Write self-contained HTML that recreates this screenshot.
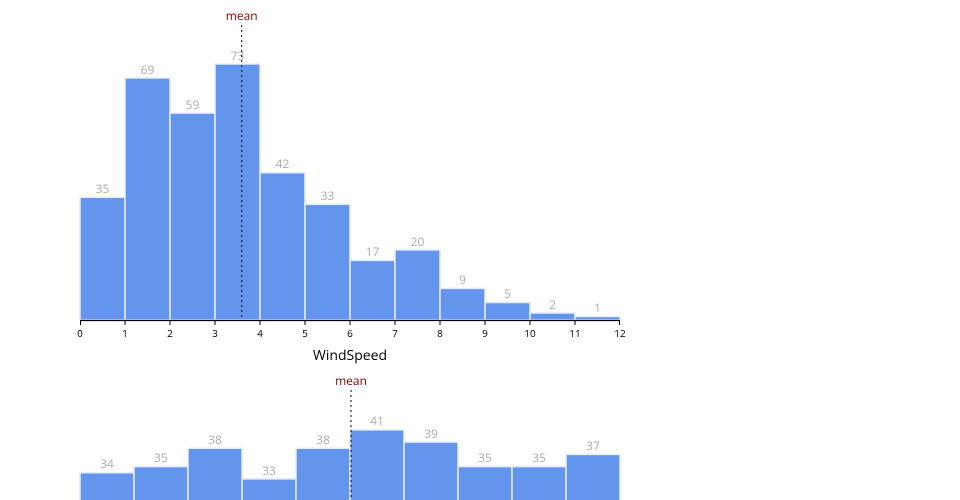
<!DOCTYPE html><html><head><style>body{margin:0;background:#fff}svg{display:block;font-family:"Open Sans","Liberation Sans",sans-serif}</style></head><body>
<svg width="960" height="500" viewBox="0 0 960 500">
<g fill="#6495ed" stroke="#e6ecfa" stroke-width="1.5">
<rect x="80" y="197.3" width="45" height="122.7"/><rect x="125" y="78" width="45" height="242"/><rect x="170" y="113.1" width="45" height="206.9"/><rect x="215" y="64" width="45" height="256"/><rect x="260" y="172.7" width="45" height="147.3"/><rect x="305" y="204.3" width="45" height="115.7"/><rect x="350" y="260.4" width="45" height="59.6"/><rect x="395" y="249.9" width="45" height="70.1"/><rect x="440" y="288.4" width="45" height="31.6"/><rect x="485" y="302.5" width="45" height="17.5"/><rect x="530" y="313" width="45" height="7"/><rect x="575" y="316.5" width="45" height="3.5"/>
</g>
<g fill="#aaa" font-size="12" text-anchor="middle">
<text x="102.5" y="193">35</text><text x="147.5" y="74">69</text><text x="192.5" y="109">59</text><text x="237.5" y="60">73</text><text x="282.5" y="168">42</text><text x="327.5" y="200">33</text><text x="372.5" y="256">17</text><text x="417.5" y="246">20</text><text x="462.5" y="284">9</text><text x="507.5" y="298">5</text><text x="552.5" y="309">2</text><text x="597.5" y="312">1</text>
</g>
<line x1="241.7" y1="25" x2="241.7" y2="320" stroke="#000" stroke-dasharray="2,3" stroke-width="1"/>
<text x="241.7" y="20" fill="#8b0000" font-size="12" text-anchor="middle">mean</text>
<path d="M80,320.5H620" stroke="#000" stroke-width="1.2"/>
<g stroke="#000"><path d="M80.5,320v5M125,320v5M170,320v5M215,320v5M260,320v5M305,320v5M350,320v5M395,320v5M440,320v5M485,320v5M530,320v5M575,320v5M619.5,320v5"/></g>
<g font-size="10" text-anchor="middle" fill="#000">
<text x="80" y="337">0</text><text x="125" y="337">1</text><text x="170" y="337">2</text><text x="215" y="337">3</text><text x="260" y="337">4</text><text x="305" y="337">5</text><text x="350" y="337">6</text><text x="395" y="337">7</text><text x="440" y="337">8</text><text x="485" y="337">9</text><text x="530" y="337">10</text><text x="575" y="337">11</text><text x="620" y="337">12</text>
</g>
<text x="350" y="360" font-size="14" text-anchor="middle" fill="#000">WindSpeed</text>
<g fill="#6495ed" stroke="#e6ecfa" stroke-width="1.5">
<rect x="80" y="472.75" width="54" height="40"/><rect x="134" y="466.6" width="54" height="40"/><rect x="188" y="448.25" width="54" height="60"/><rect x="242" y="478.9" width="54" height="30"/><rect x="296" y="448.25" width="54" height="60"/><rect x="350" y="429.9" width="54" height="80"/><rect x="404" y="442.1" width="54" height="60"/><rect x="458" y="466.6" width="54" height="40"/><rect x="512" y="466.6" width="54" height="40"/><rect x="566" y="454.4" width="54" height="50"/>
</g>
<g fill="#aaa" font-size="12" text-anchor="middle">
<text x="107" y="468">34</text><text x="161" y="462">35</text><text x="215" y="444">38</text><text x="269" y="475">33</text><text x="323" y="444">38</text><text x="377" y="425">41</text><text x="431" y="438">39</text><text x="485" y="462">35</text><text x="539" y="462">35</text><text x="593" y="450">37</text>
</g>
<line x1="351" y1="390" x2="351" y2="500" stroke="#000" stroke-dasharray="2,3" stroke-width="1"/>
<text x="351" y="385" fill="#8b0000" font-size="12" text-anchor="middle">mean</text>
</svg></body></html>
